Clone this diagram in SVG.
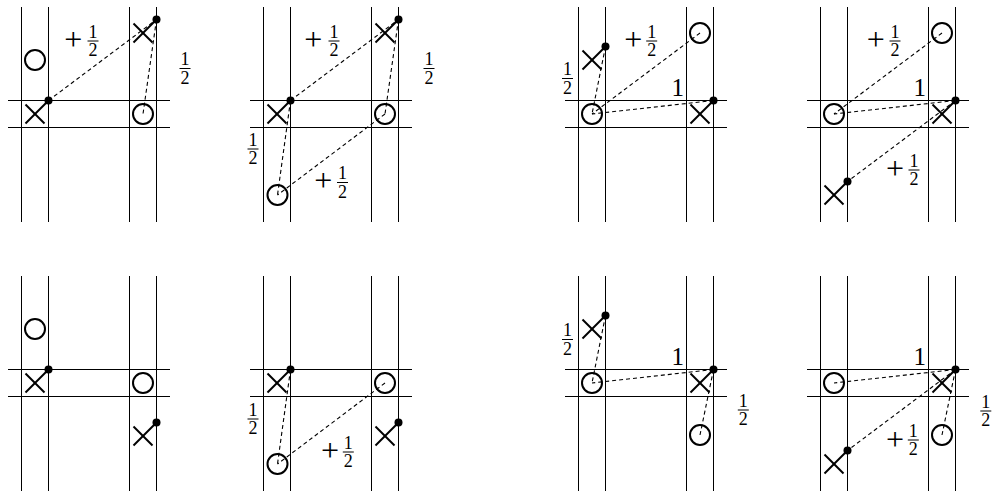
<svg xmlns="http://www.w3.org/2000/svg" width="992" height="494" viewBox="0 0 992 494">
<style>
.g{stroke:#000;stroke-width:1;fill:none}
.d{stroke:#000;stroke-width:1.1;stroke-dasharray:4 3;fill:none}
.m{stroke:#000;stroke-width:2;fill:none}
.t{font-family:"Liberation Serif","Times New Roman",serif;fill:#000;text-anchor:middle}
.f{font-size:18px}
.p{font-size:32px}
.b{font-size:25px}
</style>
<defs>
<g id="grid" class="g">
<line x1="21.5" y1="7" x2="21.5" y2="222"/>
<line x1="48.5" y1="7" x2="48.5" y2="222"/>
<line x1="129.5" y1="7" x2="129.5" y2="222"/>
<line x1="156.5" y1="7" x2="156.5" y2="222"/>
<line x1="8" y1="100.5" x2="170" y2="100.5"/>
<line x1="8" y1="127.5" x2="170" y2="127.5"/>
</g>
<g id="X">
<line class="m" x1="-9.5" y1="-9.5" x2="9.5" y2="9.5"/>
<line class="m" x1="-9.5" y1="9.5" x2="13.5" y2="-13.5"/>
<circle cx="13.5" cy="-13.5" r="4" fill="#000"/>
</g>
<circle id="O" class="m" r="10" cx="0" cy="0"/>
<g id="half">
<text class="t f" x="0" y="-3.5">1</text>
<line x1="-5.5" y1="0" x2="5.5" y2="0" stroke="#000" stroke-width="1"/>
<text class="t f" x="0" y="15">2</text>
</g>
</defs>

<!-- Top row panel 1 -->
<g id="panel-t1" transform="translate(0,0)">
<use href="#grid"/>
<g id="t1-connectors">
<line class="d" x1="48.5" y1="100.5" x2="156.5" y2="19.5"/>
<line class="d" x1="156.5" y1="19.5" x2="143" y2="114"/>
</g>
<g id="t1-oA-up"><use href="#O" x="35" y="60"/></g>
<g id="t1-xA-cell"><use href="#X" x="35" y="114"/></g>
<g id="t1-xB-up"><use href="#X" x="143" y="33"/></g>
<g id="t1-oB-cell"><use href="#O" x="143" y="114"/></g>
<g id="t1-labels">
<text class="t p" x="73.3" y="50">+</text>
<use href="#half" x="93" y="41"/>
<use href="#half" x="185" y="68.5"/>
</g>
</g>

<!-- Top row panel 2 -->
<g id="panel-t2" transform="translate(242,0)">
<use href="#grid"/>
<g id="t2-connectors">
<line class="d" x1="48.5" y1="100.5" x2="156.5" y2="19.5"/>
<line class="d" x1="156.5" y1="19.5" x2="143" y2="114"/>
<line class="d" x1="48.5" y1="100.5" x2="35.5" y2="195"/>
<line class="d" x1="143" y1="114" x2="35.5" y2="195"/>
</g>
<g id="t2-xA-cell"><use href="#X" x="35" y="114"/></g>
<g id="t2-xB-up"><use href="#X" x="143" y="33"/></g>
<g id="t2-oB-cell"><use href="#O" x="143" y="114"/></g>
<g id="t2-oA-low"><use href="#O" x="35.5" y="195"/></g>
<g id="t2-labels">
<text class="t p" x="71.3" y="50">+</text>
<use href="#half" x="92" y="41"/>
<use href="#half" x="187" y="68.5"/>
<use href="#half" x="11" y="149"/>
<text class="t p" x="81.3" y="191">+</text>
<use href="#half" x="100.5" y="182.5"/>
</g>
</g>

<!-- Top row panel 3 -->
<g id="panel-t3" transform="translate(557,0)">
<use href="#grid"/>
<g id="t3-connectors">
<line class="d" x1="48.5" y1="46.5" x2="35" y2="114"/>
<line class="d" x1="143" y1="33" x2="35" y2="114"/>
<line class="d" x1="156.5" y1="100.5" x2="35" y2="114"/>
</g>
<g id="t3-xA-up"><use href="#X" x="35" y="60"/></g>
<g id="t3-oA-cell"><use href="#O" x="35" y="114"/></g>
<g id="t3-oB-up"><use href="#O" x="143" y="33"/></g>
<g id="t3-xB-cell"><use href="#X" x="143" y="114"/></g>
<g id="t3-labels">
<use href="#half" x="10.5" y="78.5"/>
<text class="t p" x="76.3" y="50">+</text>
<use href="#half" x="94.7" y="41"/>
<text class="t b" x="120.8" y="96">1</text>
</g>
</g>

<!-- Top row panel 4 -->
<g id="panel-t4" transform="translate(799,0)">
<use href="#grid"/>
<g id="t4-connectors">
<line class="d" x1="143" y1="33" x2="35" y2="114"/>
<line class="d" x1="156.5" y1="100.5" x2="35" y2="114"/>
<line class="d" x1="156.5" y1="100.5" x2="48.5" y2="181.5"/>
</g>
<g id="t4-oA-cell"><use href="#O" x="35" y="114"/></g>
<g id="t4-oB-up"><use href="#O" x="143" y="33"/></g>
<g id="t4-xB-cell"><use href="#X" x="143" y="114"/></g>
<g id="t4-xA-low"><use href="#X" x="35" y="195"/></g>
<g id="t4-labels">
<text class="t p" x="76.7" y="50">+</text>
<use href="#half" x="96" y="41"/>
<text class="t b" x="120.7" y="96">1</text>
<text class="t p" x="96" y="179">+</text>
<use href="#half" x="115" y="170"/>
</g>
</g>

<!-- Bottom row panel 1 -->
<g id="panel-b1" transform="translate(0,269)">
<use href="#grid"/>
<g id="b1-connectors"/>
<g id="b1-oA-up"><use href="#O" x="35" y="60"/></g>
<g id="b1-xA-cell"><use href="#X" x="35" y="114"/></g>
<g id="b1-oB-cell"><use href="#O" x="143" y="114"/></g>
<g id="b1-xB-low"><use href="#X" x="143" y="167"/></g>
</g>

<!-- Bottom row panel 2 -->
<g id="panel-b2" transform="translate(242,269)">
<use href="#grid"/>
<g id="b2-connectors">
<line class="d" x1="48.5" y1="100.5" x2="35.5" y2="195"/>
<line class="d" x1="143" y1="114" x2="35.5" y2="195"/>
</g>
<g id="b2-xA-cell"><use href="#X" x="35" y="114"/></g>
<g id="b2-oB-cell"><use href="#O" x="143" y="114"/></g>
<g id="b2-xB-low"><use href="#X" x="143" y="167"/></g>
<g id="b2-oA-low"><use href="#O" x="35.5" y="195"/></g>
<g id="b2-labels">
<use href="#half" x="11" y="150"/>
<text class="t p" x="88" y="192">+</text>
<use href="#half" x="106.3" y="183"/>
</g>
</g>

<!-- Bottom row panel 3 -->
<g id="panel-b3" transform="translate(557,269)">
<use href="#grid"/>
<g id="b3-connectors">
<line class="d" x1="48.5" y1="46.5" x2="35" y2="114"/>
<line class="d" x1="156.5" y1="100.5" x2="35" y2="114"/>
<line class="d" x1="156.5" y1="100.5" x2="143" y2="166"/>
</g>
<g id="b3-xA-up"><use href="#X" x="35" y="60"/></g>
<g id="b3-oA-cell"><use href="#O" x="35" y="114"/></g>
<g id="b3-xB-cell"><use href="#X" x="143" y="114"/></g>
<g id="b3-oB-low"><use href="#O" x="143" y="166"/></g>
<g id="b3-labels">
<use href="#half" x="10.5" y="70.5"/>
<text class="t b" x="120.8" y="96">1</text>
<use href="#half" x="186.3" y="141"/>
</g>
</g>

<!-- Bottom row panel 4 -->
<g id="panel-b4" transform="translate(799,269)">
<use href="#grid"/>
<g id="b4-connectors">
<line class="d" x1="156.5" y1="100.5" x2="35" y2="114"/>
<line class="d" x1="156.5" y1="100.5" x2="48.5" y2="181.5"/>
<line class="d" x1="156.5" y1="100.5" x2="143" y2="166"/>
</g>
<g id="b4-oA-cell"><use href="#O" x="35" y="114"/></g>
<g id="b4-xB-cell"><use href="#X" x="143" y="114"/></g>
<g id="b4-xA-low"><use href="#X" x="35" y="195"/></g>
<g id="b4-oB-low"><use href="#O" x="143" y="166"/></g>
<g id="b4-labels">
<text class="t b" x="120.7" y="96">1</text>
<text class="t p" x="96" y="180.5">+</text>
<use href="#half" x="114.3" y="171"/>
<use href="#half" x="186.8" y="142"/>
</g>
</g>
</svg>
